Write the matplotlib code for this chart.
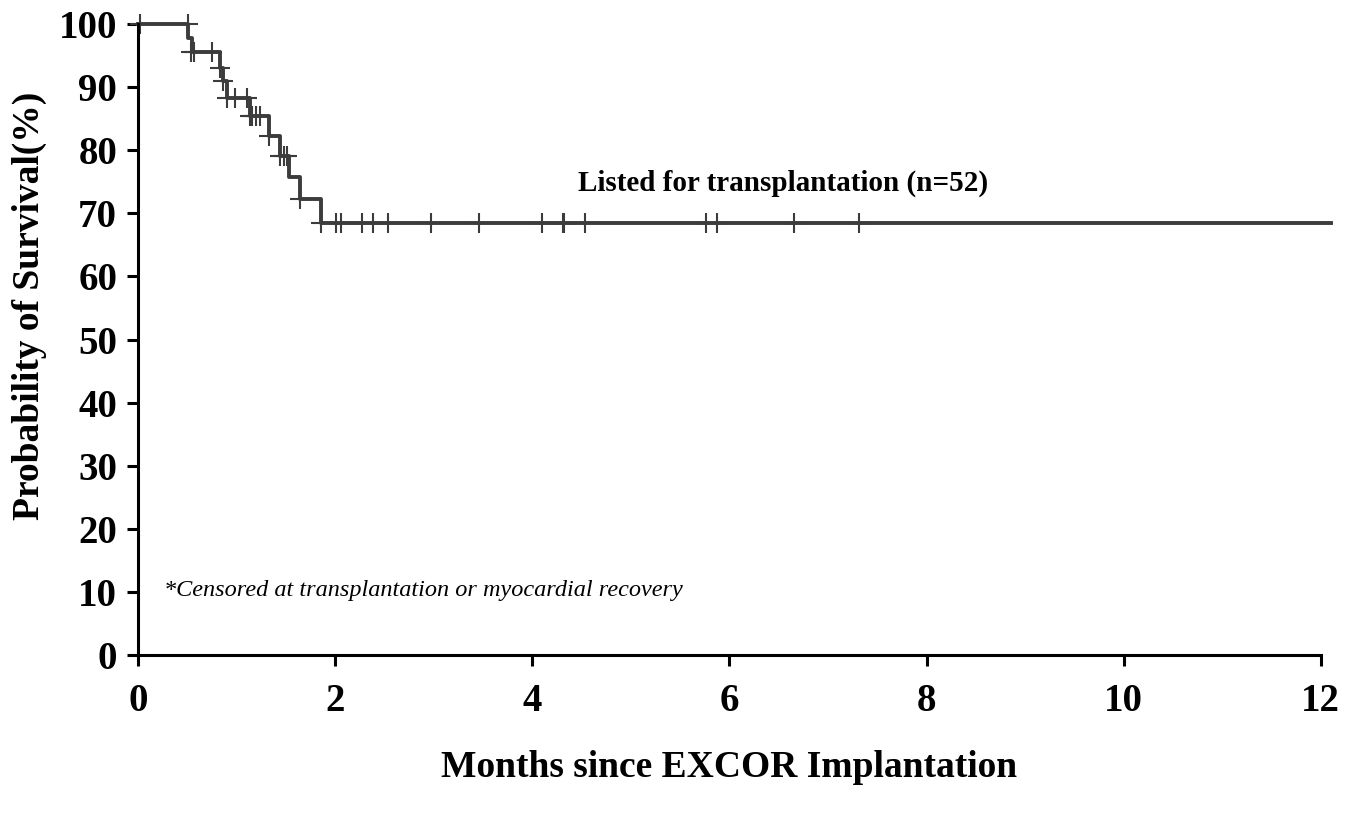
import matplotlib.pyplot as plt

plt.rcParams["font.family"] = "Liberation Serif"

# Kaplan-Meier steps (months, survival %)
step_times = [0.0, 0.51, 0.545, 0.83, 0.865, 0.90, 1.14, 1.33, 1.44, 1.535, 1.64, 1.86, 12.1]
step_surv = [100.0, 97.8, 95.6, 93.1, 90.9, 88.3, 85.5, 82.3, 79.1, 75.8, 72.2, 68.4, 68.4]

# censored observations (months, survival % at that time)
cens_times = [0.02, 0.51, 0.54, 0.57, 0.75, 0.83, 0.865, 0.905, 0.98, 1.11, 1.14,
              1.16, 1.20, 1.24, 1.33, 1.44, 1.48, 1.51, 1.64, 1.86,
              2.01, 2.06, 2.27, 2.38, 2.54, 2.97, 3.46, 4.10, 4.31, 4.32, 4.53,
              5.76, 5.87, 6.66, 7.31]
cens_surv = [100.0, 100.0, 95.6, 95.6, 95.6, 93.1, 90.9, 88.3, 88.3, 88.3, 85.5,
             85.5, 85.5, 85.5, 82.3, 79.1, 79.1, 79.1, 72.2, 68.4,
             68.4, 68.4, 68.4, 68.4, 68.4, 68.4, 68.4, 68.4, 68.4, 68.4, 68.4,
             68.4, 68.4, 68.4, 68.4]

x_ticks = [0, 2, 4, 6, 8, 10, 12]
y_ticks = [0, 10, 20, 30, 40, 50, 60, 70, 80, 90, 100]

fig = plt.figure(figsize=(13.56, 8.14), dpi=100)
ax = fig.add_axes([0.1018, 0.1953, 0.8722, 0.7752])

line_color = "#3c3c3c"
ax.step(step_times, step_surv, where="post", color=line_color, lw=2.8, clip_on=False)
ax.plot(cens_times, cens_surv, ls="none", marker="+", ms=14, mew=1.5,
        color=line_color, clip_on=False)

ax.set_xlim(0, 12)
ax.set_ylim(0, 100)
ax.set_xticks(x_ticks)
ax.set_yticks(y_ticks)

for s in ["top", "right"]:
    ax.spines[s].set_visible(False)
for s in ["left", "bottom"]:
    ax.spines[s].set_linewidth(2.2)

ax.tick_params(axis="both", direction="out", length=8, width=2.2, labelsize=28)
ax.tick_params(axis="x", pad=12)
ax.tick_params(axis="y", pad=7)
for lab in ax.get_xticklabels() + ax.get_yticklabels():
    lab.set_fontweight("bold")

ax.set_xlabel("Months since EXCOR Implantation", fontsize=27, fontweight="bold", labelpad=22)
ax.set_ylabel("Probability of Survival(%)", fontsize=27, fontweight="bold")
ax.yaxis.set_label_coords(-0.077, 0.553)

ax.text(4.46, 74.8, "Listed for transplantation (n=52)", fontsize=21, fontweight="bold",
        ha="left", va="center")
ax.text(0.26, 10.3, "*Censored at transplantation or myocardial recovery", fontsize=17.5,
        style="italic", ha="left", va="center")

fig.savefig("out.png", dpi=100)
plt.close(fig)
